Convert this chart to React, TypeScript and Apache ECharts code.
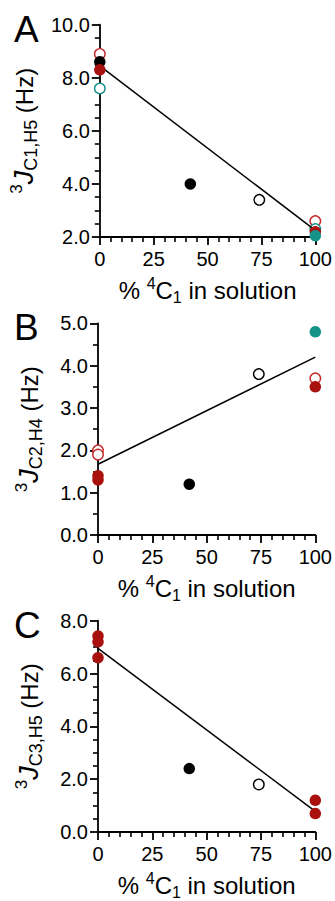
import React, { useEffect, useRef } from "react";
import * as echarts from "echarts";

// ---------- data ----------
const xRange = [0, 100];
const xInterval = 25;
const xMinorSplit = 5;

// Panel A: 3J C1,H5
const aYRange = [2, 10];
const aYInterval = 2;
const aYMinorSplit = 4;
const aBlackFilled = [[0, 8.6], [42, 4.0]];
const aBlackOpen = [[74, 3.4]];
const aRedOpen = [[0, 8.9], [100, 2.6]];
const aTealOpen = [[0, 7.6], [100, 2.3]];
const aRedFilled = [[0, 8.3], [100, 2.2]];
const aTealFilled = [[100, 2.05]];
const aFit = [[0, 8.45], [100, 2.25]];

// Panel B: 3J C2,H4
const bYRange = [0, 5];
const bYInterval = 1;
const bYMinorSplit = 2;
const bBlackFilled = [[42, 1.2]];
const bBlackOpen = [[74, 3.8]];
const bRedOpen = [[0, 2.0], [0, 1.9], [100, 3.7]];
const bTealOpen: number[][] = [];
const bRedFilled = [[0, 1.4], [0, 1.3], [100, 3.5]];
const bTealFilled = [[100, 4.8]];
const bFit = [[0, 1.67], [100, 4.2]];

// Panel C: 3J C3,H5
const cYRange = [0, 8];
const cYInterval = 2;
const cYMinorSplit = 4;
const cBlackFilled = [[42, 2.4]];
const cBlackOpen = [[74, 1.8]];
const cRedOpen: number[][] = [];
const cTealOpen: number[][] = [];
const cRedFilled = [[0, 7.42], [0, 7.2], [0, 6.6], [100, 1.2], [100, 0.7]];
const cTealFilled: number[][] = [];
const cFit = [[0, 6.95], [100, 0.78]];

const panelLetters = ["A", "B", "C"];
const yTitleSubs = ["C1,H5", "C2,H4", "C3,H5"];

// ---------- styles ----------
const FONT = "Liberation Sans, Arial, Helvetica, sans-serif";
const BLACK = "#000000";
const DARK_RED = "#a8110e";
const RED = "#c42a2a";
const TEAL = "#139389";

const grids = [
  { top: 24.7, height: 212.3 },
  { top: 323.3, height: 211.7 },
  { top: 620.7, height: 211.6 },
];

export default function App() {
  const ref = useRef<HTMLDivElement>(null);

  useEffect(() => {
    document.body.style.margin = "0";
    if (!ref.current) return;
    const chart = echarts.init(ref.current, undefined, { renderer: "svg" });

    const panels = [
      {
        yr: aYRange, yi: aYInterval, yms: aYMinorSplit,
        bf: aBlackFilled, bo: aBlackOpen, ro: aRedOpen, to: aTealOpen,
        rf: aRedFilled, tf: aTealFilled, fit: aFit,
      },
      {
        yr: bYRange, yi: bYInterval, yms: bYMinorSplit,
        bf: bBlackFilled, bo: bBlackOpen, ro: bRedOpen, to: bTealOpen,
        rf: bRedFilled, tf: bTealFilled, fit: bFit,
      },
      {
        yr: cYRange, yi: cYInterval, yms: cYMinorSplit,
        bf: cBlackFilled, bo: cBlackOpen, ro: cRedOpen, to: cTealOpen,
        rf: cRedFilled, tf: cTealFilled, fit: cFit,
      },
    ];

    const xAxes: any[] = [];
    const yAxes: any[] = [];
    const series: any[] = [];
    const graphics: any[] = [];

    const open = (data: number[][], color: string, i: number, z: number) => ({
      type: "scatter", xAxisIndex: i, yAxisIndex: i, data, symbol: "circle",
      symbolSize: 10.5, clip: false, z,
      itemStyle: { color: "#ffffff", opacity: 1, borderColor: color, borderWidth: 1.4 },
    });
    const filled = (data: number[][], color: string, i: number, z: number) => ({
      type: "scatter", xAxisIndex: i, yAxisIndex: i, data, symbol: "circle",
      symbolSize: 11.5, clip: false, z,
      itemStyle: { color, opacity: 1, borderWidth: 0 },
    });

    panels.forEach((p, i) => {
      xAxes.push({
        gridIndex: i, type: "value", min: xRange[0], max: xRange[1], interval: xInterval,
        axisLine: { show: true, lineStyle: { color: BLACK, width: 1.8 } },
        axisTick: { show: true, length: 8, lineStyle: { color: BLACK, width: 1.8 } },
        minorTick: { show: true, splitNumber: xMinorSplit, length: 5, lineStyle: { color: BLACK, width: 1.6 } },
        splitLine: { show: false },
        axisLabel: { color: BLACK, fontSize: 20, fontFamily: FONT, margin: 12 },
        name: "{n|% }{sup|4}{n|C}{sub|1}{n| in solution}",
        nameLocation: "middle",
        nameGap: 38,
        nameTextStyle: {
          color: BLACK, fontFamily: FONT,
          rich: {
            n: { fontSize: 24, fontFamily: FONT, color: BLACK, lineHeight: 30, verticalAlign: "middle" },
            sup: { fontSize: 16, fontFamily: FONT, color: BLACK, lineHeight: 30, verticalAlign: "top" },
            sub: { fontSize: 16, fontFamily: FONT, color: BLACK, lineHeight: 30, verticalAlign: "bottom" },
          },
        },
      });
      yAxes.push({
        gridIndex: i, type: "value", min: p.yr[0], max: p.yr[1], interval: p.yi,
        axisLine: { show: true, lineStyle: { color: BLACK, width: 1.8 } },
        axisTick: { show: true, length: 8, lineStyle: { color: BLACK, width: 1.8 } },
        minorTick: { show: true, splitNumber: p.yms, length: 5, lineStyle: { color: BLACK, width: 1.6 } },
        splitLine: { show: false },
        axisLabel: {
          color: BLACK, fontSize: 20, fontFamily: FONT, margin: 10,
          formatter: (v: number) => v.toFixed(1),
        },
        name: `{sup|3}{j|J}{sub|${yTitleSubs[i]}}{n| (Hz)}`,
        nameLocation: "middle",
        nameGap: 53,
        nameTextStyle: {
          color: BLACK, fontFamily: FONT,
          rich: {
            n: { fontSize: 24, fontFamily: FONT, color: BLACK, lineHeight: 32, verticalAlign: "middle" },
            j: { fontSize: 27, fontFamily: FONT, fontStyle: "italic", color: BLACK, lineHeight: 32, verticalAlign: "middle" },
            sup: { fontSize: 17, fontFamily: FONT, color: BLACK, lineHeight: 32, verticalAlign: "top" },
            sub: { fontSize: 18, fontFamily: FONT, color: BLACK, lineHeight: 32, verticalAlign: "bottom" },
          },
        },
      });

      series.push({
        type: "line", xAxisIndex: i, yAxisIndex: i, data: p.fit, symbol: "none",
        lineStyle: { color: BLACK, width: 1.5 }, z: 3, silent: true,
      });
      series.push(open(p.bo, BLACK, i, 2));
      series.push(open(p.ro, RED, i, 2));
      series.push(open(p.to, TEAL, i, 2));
      series.push(filled(p.bf, BLACK, i, 5));
      series.push(filled(p.rf, DARK_RED, i, 6));
      series.push(filled(p.tf, TEAL, i, 7));

      graphics.push({
        type: "text",
        left: 14,
        top: grids[i].top - 14,
        style: { text: panelLetters[i], fontSize: 37, fontFamily: FONT, fill: BLACK },
      });
    });

    chart.setOption({
      animation: false,
      backgroundColor: "#ffffff",
      grid: grids.map((g) => ({ left: 98, width: 218, top: g.top, height: g.height })),
      xAxis: xAxes,
      yAxis: yAxes,
      series,
      graphic: graphics,
    });

    return () => chart.dispose();
  }, []);

  return <div ref={ref} style={{ width: 335, height: 901 }} />;
}
